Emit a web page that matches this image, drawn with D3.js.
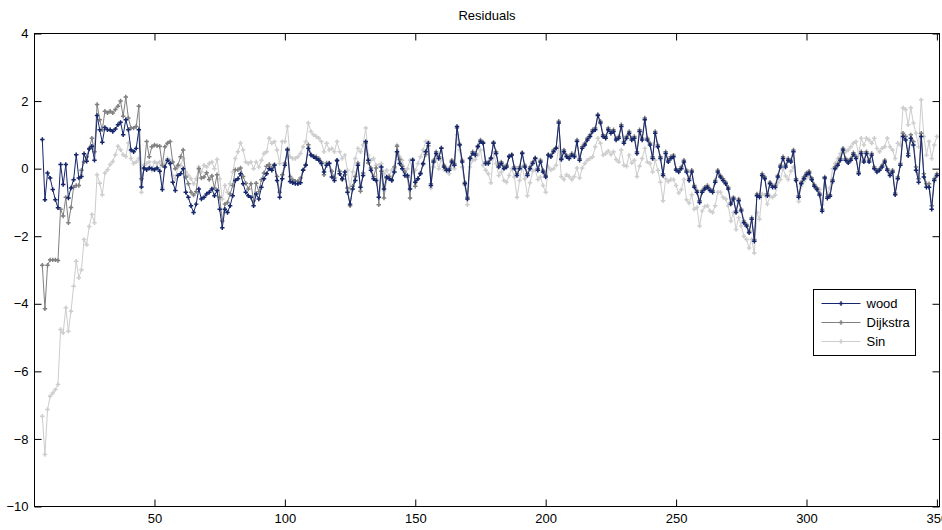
<!DOCTYPE html>
<html>
<head>
<meta charset="utf-8">
<title>Residuals</title>
<script src="https://cdn.jsdelivr.net/npm/d3@7"></script>
<style>
  body { margin: 0; background: #ffffff; }
  svg text { font-family: "Liberation Sans", Arial, sans-serif; font-size: 13px; fill: #000000; }
</style>
</head>
<body>
<div id="chart"></div>
<script>

// sample numbers start at 7, one value per sample up to 350
var firstSample = 7;

var wood = [
  0.86, -0.92, -0.13, -0.28, -0.62, -0.92, -1.16, 0.12, -0.47, 0.12,
  -0.87, -0.57, -0.33, 0.41, -0.28, -0.23, 0.44, 0.22, 0.58, 0.66,
  0.25, 1.57, 1.15, 0.78, 1.22, 1.15, 1.15, 1.1, 1.17, 1.3,
  1.37, 1.0, 1.45, 1.15, 0.55, 0.5, 0.6, 1.15, -0.54, 0.02,
  -0.03, 0.02, 0.0, -0.03, 0.02, -0.08, -0.62, 0.05, 0.25, 0.15,
  -0.4, -0.65, -0.2, -0.15, 0.0, -0.7, -0.85, -1.1, -1.3, -1.05,
  -0.6, -0.9, -0.85, -0.75, -0.7, -0.6, -0.8, -0.65, -1.2, -1.75,
  -1.2, -1.3, -1.1, -0.8, -0.35, -0.3, -0.15, -0.45, -0.7, -0.8,
  -0.85, -1.1, -0.75, -0.9, -0.55, -0.3, -0.15, 0.0, -0.05, 0.1,
  -0.35, -0.85, -0.3, 0.1, 0.55, -0.38, -0.42, -0.44, -0.45, -0.42,
  -0.05, 0.1, 0.6, 0.4, 0.35, 0.3, 0.25, 0.15, -0.1, 0.1,
  0.15, -0.25, -0.35, 0.25, -0.15, -0.3, -0.1, -0.7, -1.05, -0.6,
  -0.35, 0.1, -0.55, -0.2, 0.8, 0.25, -0.05, -0.3, -0.35, -0.85,
  0.05, -0.6, -0.25, -0.3, -0.35, -0.1, 0.5, 0.15, 0.0, -0.2,
  -0.2, -0.6, 0.25, -0.4, -0.3, -0.15, 0.15, 0.5, 0.75, -0.5,
  0.2, 0.45, 0.3, 0.6, 0.05, -0.05, -0.05, 0.2, 0.1, 1.25,
  0.7, 0.2, -0.45, -0.9, 0.3, 0.45, 0.4, 0.65, 0.8, 0.75,
  0.15, 0.15, 0.3, 0.75, 0.45, 0.05, 0.15, 0.0, 0.05, 0.35,
  0.4, 0.0, -0.2, 0.0, 0.45, 0.05, -0.2, 0.0, 0.15, 0.3,
  -0.05, 0.2, -0.1, -0.25, 0.4, 0.35, 0.5, 0.6, 1.35, 0.27,
  0.5, 0.35, 0.3, 0.4, 0.35, 0.8, 0.25, 0.6, 0.7, 0.85,
  0.95, 1.1, 1.15, 1.57, 1.35, 0.95, 0.9, 1.15, 1.05, 1.1,
  0.85, 0.9, 1.25, 0.75, 0.9, 1.05, 0.85, 0.9, 0.45, 1.1,
  0.85, 1.45, 0.85, 0.7, 0.3, 1.05, 0.65, 0.3, -0.2, 0.45,
  0.2, 0.3, 0.35, -0.05, -0.1, 0.0, 0.2, -0.1, -0.35, -0.1,
  -0.55, -0.7, -1.0, -0.7, -0.6, -0.55, -0.65, -0.7, -0.4, -0.1,
  -0.25, -0.35, -0.45, -0.6, -1.05, -0.9, -1.3, -0.95, -1.25, -1.6,
  -1.7, -1.9, -1.5, -2.15, -0.8, -0.85, -0.2, -0.3, -0.8, -0.45,
  -0.55, -0.55, -0.25, 0.05, 0.3, 0.05, 0.25, 0.2, 0.5, -0.35,
  -0.85, -0.45, -0.3, -0.18, -0.13, -0.33, -0.52, -0.62, -0.78, -1.26,
  -0.28, -0.88, -0.82, -0.38, 0.0, 0.1, 0.25, 0.55, 0.25, 0.17,
  0.25, 0.42, 0.3, -0.15, 0.45, 0.2, 0.45, 0.2, 0.4, 0.0,
  -0.1, -0.05, 0.05, 0.2, -0.05, -0.2, -0.1, -0.77, -0.3, 0.1,
  0.95, 0.85, 0.38, 0.9, 0.7, -0.05, -0.4, 0.95, -0.25, -0.55,
  -0.55, -1.2, -0.35, -0.2
];

var dijkstra = [
  -2.86, -4.15, -2.86, -2.7, -2.7, -2.7, -2.72, -1.2, -1.4, -0.85,
  -1.6, -1.15, -0.55, -0.5, -0.5, -0.05, 0.2, 0.35, 0.6, 0.9,
  0.5, 1.9, 1.45, 1.15, 1.7, 1.65, 1.7, 1.65, 1.75, 1.85,
  2.0, 1.55, 2.12, 1.5, 1.2, 1.2, 1.25, 1.85, -0.3, 0.0,
  0.8, 0.35, 0.65, 0.7, 0.68, 0.66, 0.1, 0.65, 0.75, 0.8,
  0.2, 0.0, 0.1, 0.35, 0.55, -0.25, -0.45, -0.7, -0.78, -0.68,
  0.0, -0.28, -0.25, -0.12, -0.32, -0.22, -0.57, -0.18, -0.85, -1.55,
  -1.05, -1.0, -0.75, -0.5, -0.03, -0.03, 0.02, -0.23, -0.43, -0.6,
  -0.45, -0.95, -0.43, -0.68, -0.33, -0.13, 0.07, 0.12, 0.02, 0.12,
  -0.23, -0.7, -0.18, 0.17, 0.58, -0.23, -0.33, -0.37, -0.37, -0.28,
  -0.03, 0.12, 0.71, 0.42, 0.37, 0.35, 0.3, 0.2, -0.18, 0.17,
  0.17, -0.08, -0.28, 0.22, -0.08, -0.33, -0.18, -0.57, -1.1, -0.52,
  -0.23, 0.17, -0.67, -0.13, 0.76, 0.17, 0.02, -0.23, 0.02, -1.07,
  -0.08, -0.87, -0.28, -0.23, -0.33, 0.05, 0.66, 0.27, 0.07, -0.1,
  -0.25, -0.87, 0.27, -0.52, -0.3, -0.13, 0.12, 0.42, 0.68, -0.45,
  0.25, 0.5, 0.35, 0.62, 0.1, 0.0, 0.0, 0.25, 0.15, 1.2,
  0.72, 0.25, -0.4, -0.85, 0.32, 0.5, 0.45, 0.68, 0.85, 0.78,
  0.2, 0.2, 0.32, 0.78, 0.5, 0.1, 0.2, 0.05, 0.1, 0.38,
  0.42, 0.05, -0.15, 0.05, 0.48, 0.1, -0.15, 0.05, 0.2, 0.32,
  0.0, 0.25, -0.05, -0.2, 0.42, 0.4, 0.55, 0.62, 1.4, 0.3,
  0.55, 0.4, 0.35, 0.45, 0.4, 0.85, 0.3, 0.65, 0.75, 0.9,
  1.0, 1.15, 1.2, 1.6, 1.4, 1.0, 0.95, 1.2, 1.1, 1.15,
  0.9, 0.95, 1.3, 0.8, 0.95, 1.1, 0.9, 0.95, 0.5, 1.15,
  0.9, 1.5, 0.9, 0.75, 0.35, 1.1, 0.7, 0.35, -0.15, 0.5,
  0.25, 0.35, 0.4, 0.0, -0.05, 0.05, 0.25, -0.05, -0.3, -0.05,
  -0.5, -0.65, -0.95, -0.65, -0.55, -0.5, -0.6, -0.65, -0.35, -0.05,
  -0.2, -0.3, -0.4, -0.55, -1.0, -0.85, -1.25, -0.9, -1.2, -1.55,
  -1.65, -1.85, -1.45, -2.1, -0.75, -0.8, -0.15, -0.25, -0.75, -0.4,
  -0.5, -0.5, -0.2, 0.1, 0.35, 0.1, 0.3, 0.25, 0.55, -0.3,
  -0.8, -0.4, -0.25, -0.13, -0.08, -0.28, -0.47, -0.57, -0.73, -1.2,
  -0.25, -0.83, -0.77, -0.33, 0.05, 0.15, 0.3, 0.6, 0.3, 0.22,
  0.3, 0.47, 0.35, -0.1, 0.5, 0.25, 0.5, 0.25, 0.45, 0.05,
  -0.05, 0.0, 0.1, 0.25, 0.0, -0.15, -0.05, -0.72, -0.25, 0.15,
  1.05, 0.95, 0.45, 1.0, 0.8, 0.05, -0.3, 1.05, -0.15, -0.45,
  -0.45, -1.1, -0.3, -0.15
];

var sin = [
  -7.33, -8.46, -7.13, -6.74, -6.64, -6.54, -6.39, -4.76, -4.86, -4.12,
  -4.81, -4.22, -3.48, -2.74, -3.23, -2.99, -2.1, -2.25, -1.71, -1.36,
  -1.6, -0.18, -0.43, -0.77, -0.13, -0.03, 0.12, 0.21, 0.41, 0.66,
  0.56, 0.41, 0.36, 0.76, 0.3, 0.15, 0.2, 0.3, -0.7, 0.1,
  0.15, 0.2, -0.05, 0.2, 0.15, 0.2, -0.55, 0.15, 0.3, 0.25,
  -0.2, -0.3, 0.05, 0.1, 0.3, -0.1, -0.2, -0.3, -0.45, -0.3,
  0.05, -0.1, 0.1, 0.05, 0.15, 0.2, 0.0, 0.27, -0.3, -0.9,
  -0.5, -0.7, -0.45, -0.1, 0.3, 0.5, 0.76, 0.55, 0.2, 0.15,
  0.2, 0.0, 0.2, 0.05, 0.25, 0.45, 0.5, 0.9, 0.75, 0.8,
  0.55, 0.15, 0.8, 0.8, 1.25, 0.35, 0.3, 0.3, 0.35, 0.45,
  0.65, 0.8, 1.35, 1.1, 1.0, 0.95, 0.9, 0.8, 0.5, 0.75,
  0.55, 0.6, 0.5, 0.8, 0.5, 0.3, 0.4, -0.05, -0.6, -0.1,
  0.3, 0.6, 0.5, 0.7, 1.2, 0.4, 0.25, 0.3, 0.1, 0.1,
  0.15, -0.15, -0.05, -0.2, -0.05, 0.0, 0.7, 0.35, 0.25, -0.05,
  0.0, 0.25, -0.1, -0.05, 0.15, 0.35, 0.55, 0.8, 0.8, -0.57,
  0.05, 0.3, 0.0, 0.3, -0.03, -0.08, -0.15, 0.1, 0.0, 1.0,
  0.55, 0.05, -0.5, -1.07, 0.05, 0.25, 0.27, 0.4, 0.55, 0.1,
  -0.05, -0.15, -0.42, 0.45, 0.15, -0.2, -0.1, -0.35, -0.4, -0.2,
  0.0, -0.25, -0.85, -0.35, 0.05, -0.3, -0.8, -0.42, -0.08, -0.03,
  -0.32, -0.25, -0.5, -0.7, 0.05, -0.03, 0.0, 0.1, 0.65, -0.23,
  -0.32, -0.18, -0.23, -0.32, -0.23, 0.02, -0.28, 0.02, 0.15, 0.25,
  0.3, 0.35, 0.65, 0.9, 0.75, 0.4, 0.45, 0.52, 0.42, 0.5,
  0.27, 0.2, 0.55, 0.1, 0.07, 0.4, 0.17, 0.25, -0.23, 0.07,
  0.3, 0.6, 0.2, 0.15, -0.1, 0.25, -0.05, -0.4, -0.95, -0.3,
  -0.38, -0.32, -0.32, -0.5, -0.72, -0.62, -0.32, -0.92, -1.02, -0.77,
  -1.2, -1.15, -1.7, -1.25, -1.12, -1.1, -1.25, -1.3, -1.1, -0.7,
  -0.7, -0.85, -0.9, -1.1, -1.55, -1.3, -1.8, -1.45, -1.7, -2.0,
  -2.1, -2.35, -2.1, -2.5, -1.3, -1.5, -0.75, -0.78, -1.05, -0.82,
  -0.85, -0.78, -0.42, -0.32, 0.0, -0.22, -0.32, -0.08, 0.05, -0.35,
  -0.97, -0.52, -0.37, -0.27, -0.23, -0.3, -0.52, -0.58, -0.62, -1.06,
  -0.32, -0.75, -0.57, 0.0, 0.15, 0.3, 0.45, 0.6, 0.5, 0.55,
  0.65, 0.75, 0.8, 0.4, 0.9, 0.7, 0.9, 0.85, 0.75, 0.9,
  0.6, 0.5, 0.6, 0.65, 0.9, 0.65, 0.55, 0.3, 0.75, 0.7,
  1.8, 1.75, 1.3, 1.8, 1.35, 1.05, 0.65, 2.04, 0.95, 0.4,
  0.8, 0.3, 0.7, 0.95
];

var seriesNames = ["wood", "Dijkstra", "Sin"];
var xTicks = [50, 100, 150, 200, 250, 300, 350];
var yTicks = [-10, -8, -6, -4, -2, 0, 2, 4];
var chartTitle = "Residuals";

function drawChart() {

  var width = 942;
  var height = 530;

  var svg = d3.select("#chart")
    .append("svg")
    .attr("width", width)
    .attr("height", height);

  var xScale = d3.scaleLinear()
    .domain([4, 351])
    .range([34.5, 939.5]);

  var yScale = d3.scaleLinear()
    .domain([-10, 4])
    .range([506.5, 33.5]);

  var colors = {"wood": "#15266b", "Dijkstra": "#808080", "Sin": "#cdcdcd"};

  var series = [
    {name: "wood", values: wood},
    {name: "Dijkstra", values: dijkstra},
    {name: "Sin", values: sin}
  ];

  series.forEach(function(s) {
    s.points = s.values.map(function(v, i) {
      return {x: firstSample + i, y: v};
    });
  });

  var line = d3.line()
    .x(function(d) { return xScale(d.x); })
    .y(function(d) { return yScale(d.y); });

  var marker = d3.symbol().type(d3.symbolCross).size(11);

  // light series underneath so the dark one stays readable
  var drawOrder = series.slice().reverse();

  drawOrder.forEach(function(s) {
    var g = svg.append("g").attr("class", "series");

    g.append("path")
      .datum(s.points)
      .attr("d", line)
      .style("fill", "none")
      .style("stroke", colors[s.name])
      .style("stroke-width", "1");

    g.selectAll("path.mark")
      .data(s.points)
      .enter()
      .append("path")
      .attr("class", "mark")
      .attr("transform", function(d) { return "translate(" + xScale(d.x) + "," + yScale(d.y) + ")"; })
      .attr("d", marker)
      .style("fill", colors[s.name]);
  });

  // axes box with inward ticks on all four sides
  var bottom = svg.append("g")
    .attr("transform", "translate(0," + yScale(-10) + ")")
    .call(d3.axisBottom(xScale).tickValues(xTicks).tickSize(-7).tickPadding(7));

  var top = svg.append("g")
    .attr("transform", "translate(0," + yScale(4) + ")")
    .call(d3.axisTop(xScale).tickValues(xTicks).tickSize(-7).tickFormat(""));

  var left = svg.append("g")
    .attr("transform", "translate(" + xScale(4) + ",0)")
    .call(d3.axisLeft(yScale).tickValues(yTicks).tickSize(-7).tickPadding(6));

  var right = svg.append("g")
    .attr("transform", "translate(" + xScale(351) + ",0)")
    .call(d3.axisRight(yScale).tickValues(yTicks).tickSize(-7).tickFormat(""));

  [bottom, top, left, right].forEach(function(a) {
    a.select(".domain").remove();
    a.selectAll("line").style("stroke", "#000000");
    a.selectAll("text")
      .style("font-family", "'Liberation Sans', Arial, sans-serif")
      .style("font-size", "13px")
      .style("fill", "#000000");
  });

  svg.append("rect")
    .attr("x", xScale(4))
    .attr("y", yScale(4))
    .attr("width", xScale(351) - xScale(4))
    .attr("height", yScale(-10) - yScale(4))
    .style("fill", "none")
    .style("stroke", "#000000")
    .style("stroke-width", "1");

  svg.append("text")
    .attr("x", (xScale(4) + xScale(351)) / 2)
    .attr("y", 20)
    .attr("text-anchor", "middle")
    .text(chartTitle);

  // legend
  var legend = svg.append("g")
    .attr("transform", "translate(813.5,289.5)");

  legend.append("rect")
    .attr("width", 102)
    .attr("height", 66)
    .style("fill", "#ffffff")
    .style("stroke", "#000000")
    .style("stroke-width", "1");

  var rows = legend.selectAll("g.row")
    .data(seriesNames)
    .enter()
    .append("g")
    .attr("class", "row")
    .attr("transform", function(d, i) { return "translate(0," + (14 + i * 19) + ")"; });

  rows.append("line")
    .attr("x1", 8)
    .attr("x2", 47)
    .style("stroke", function(d) { return colors[d]; })
    .style("stroke-width", "1");

  rows.append("path")
    .attr("transform", "translate(27.5,0)")
    .attr("d", marker)
    .style("fill", function(d) { return colors[d]; });

  rows.append("text")
    .attr("x", 53)
    .attr("dy", "0.35em")
    .text(function(d) { return d; });
}

window.onload = drawChart;
</script>
</body>
</html>
